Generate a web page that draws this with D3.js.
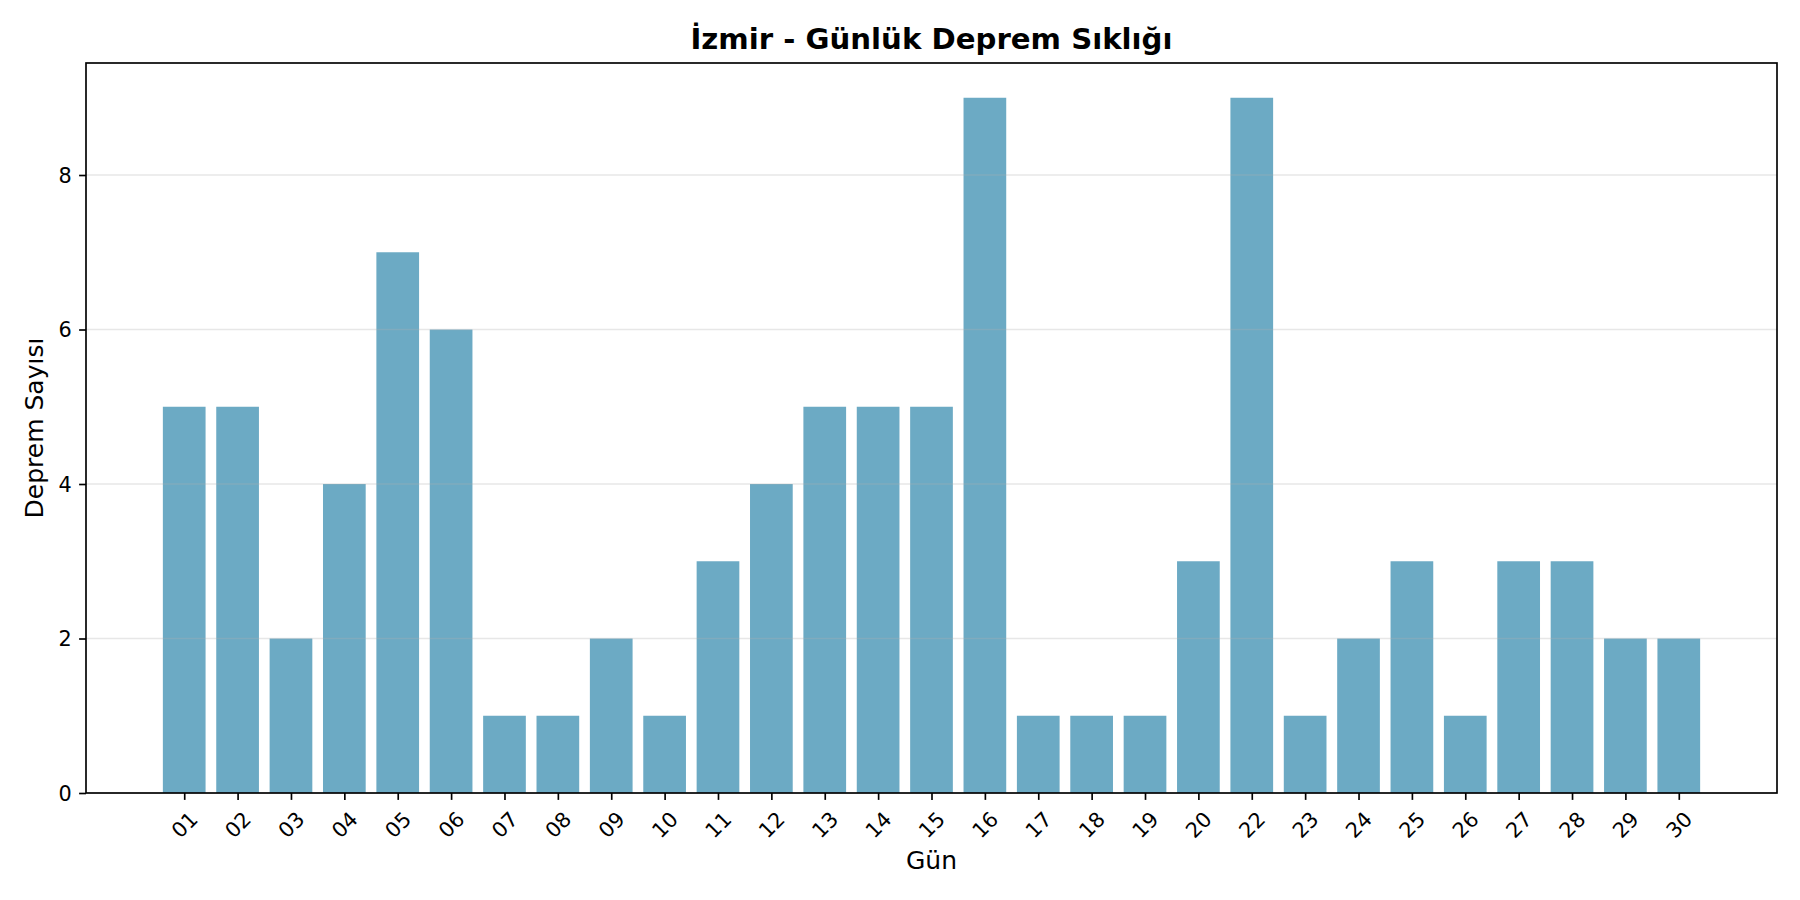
<!DOCTYPE html>
<html>
<head>
<meta charset="utf-8">
<script src="https://cdn.jsdelivr.net/npm/d3@7"></script>
<style>
  html, body { margin: 0; padding: 0; background: #fff; }
  svg { display: block; font-family: "DejaVu Sans", sans-serif; }
</style>
</head>
<body>
<svg id="chart" width="1800" height="900"></svg>
<script>
const days = ["01","02","03","04","05","06","07","08","09","10","11","12","13","14","15","16","17","18","19","20","22","23","24","25","26","27","28","29","30"];
const counts = [5,5,2,4,7,6,1,1,2,1,3,4,5,5,5,9,1,1,1,3,9,1,2,3,1,3,3,2,2];
const yTicks = [0,2,4,6,8];
const titleText = "İzmir - Günlük Deprem Sıklığı";
const xLabelText = "Gün";
const yLabelText = "Deprem Sayısı";

const svg = d3.select("#chart");
const L = 86, R = 1777, T = 63, B = 793;
const barW = 0.8;
const n = days.length;
const span = (n - 1) + barW;
const xMin = -barW / 2 - 0.05 * span, xMax = (n - 1) + barW / 2 + 0.05 * span;
const x = d3.scaleLinear().domain([xMin, xMax]).range([L, R]);
const yMax = d3.max(counts) * 1.05;
const y = d3.scaleLinear().domain([0, yMax]).range([B, T]);

// bars
svg.append("g").selectAll("rect").data(counts).join("rect")
  .attr("x", (d, i) => x(i - barW / 2))
  .attr("width", (d, i) => x(i + barW / 2) - x(i - barW / 2))
  .attr("y", d => y(d))
  .attr("height", d => y(0) - y(d))
  .attr("fill", "#2E86AB")
  .attr("fill-opacity", 0.7);

// grid (over bars, like matplotlib default)
svg.append("g").selectAll("line").data(yTicks).join("line")
  .attr("x1", L).attr("x2", R)
  .attr("y1", d => y(d)).attr("y2", d => y(d))
  .attr("stroke", "#b0b0b0").attr("stroke-opacity", 0.3).attr("stroke-width", 1.67);

// y axis
const yAxis = d3.axisLeft(y).tickValues(yTicks).tickSize(6.9).tickPadding(7.3).tickFormat(d3.format("d"));
const gy = svg.append("g").attr("transform", `translate(${L},0)`).call(yAxis);
gy.select(".domain").remove();
gy.selectAll(".tick line").attr("stroke", "#000").attr("stroke-width", 1.67);
gy.selectAll(".tick text").attr("font-size", 20.8).attr("fill", "#000")
  .attr("font-family", "DejaVu Sans").attr("dy", "0.35em");

// x axis
const xAxis = d3.axisBottom(x).tickValues(d3.range(n)).tickSize(6.9).tickFormat(i => days[i]);
const gx = svg.append("g").attr("transform", `translate(0,${B})`).call(xAxis);
gx.select(".domain").remove();
gx.selectAll(".tick line").attr("stroke", "#000").attr("stroke-width", 1.67);
gx.selectAll(".tick text")
  .attr("font-size", 20.8).attr("fill", "#000").attr("font-family", "DejaVu Sans")
  .attr("y", null).attr("dy", null)
  .attr("text-anchor", "middle").attr("dominant-baseline", "central")
  .attr("transform", "translate(0,32) rotate(-45)");

// spines
svg.append("rect").attr("x", L).attr("y", T).attr("width", R - L).attr("height", B - T)
  .attr("fill", "none").attr("stroke", "#000").attr("stroke-width", 1.67);

// title
svg.append("text").attr("x", (L + R) / 2).attr("y", 48.5)
  .attr("text-anchor", "middle").attr("font-size", 29.2).attr("font-weight", "bold")
  .text(titleText);

// x label
svg.append("text").attr("x", (L + R) / 2).attr("y", 869)
  .attr("text-anchor", "middle").attr("font-size", 25).text(xLabelText);

// y label
svg.append("text").attr("transform", `translate(43,${(T + B) / 2}) rotate(-90)`)
  .attr("text-anchor", "middle").attr("font-size", 25).text(yLabelText);
</script>
</body>
</html>
